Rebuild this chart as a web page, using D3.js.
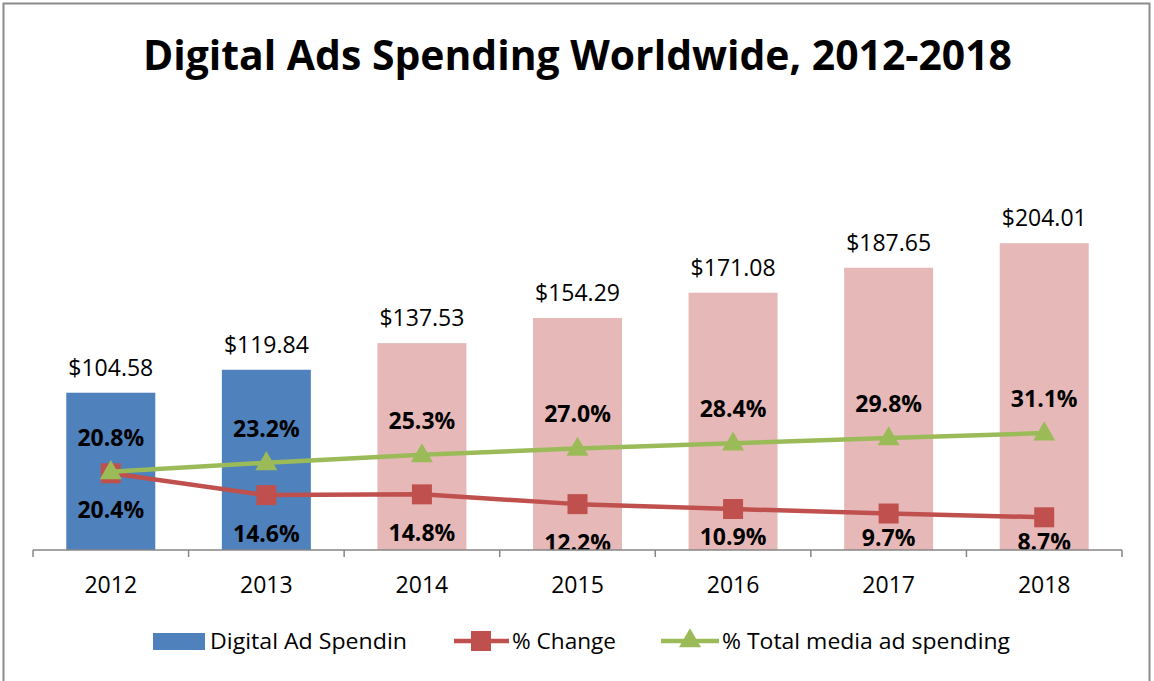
<!DOCTYPE html>
<html>
<head>
<meta charset="utf-8">
<script src="https://cdn.jsdelivr.net/npm/d3@7"></script>
<style>
  html, body { margin: 0; padding: 0; background: #fff; }
  svg { display: block; font-family: "Open Sans", "Noto Sans", sans-serif; }
</style>
</head>
<body>
<svg id="chart" width="1154" height="681"></svg>
<script>
// Spending in billions of US dollars, with yearly growth and share of total media spend
const years = ["2012", "2013", "2014", "2015", "2016", "2017", "2018"];
const spending = [104.58, 119.84, 137.53, 154.29, 171.08, 187.65, 204.01];
const pctChange = [20.4, 14.6, 14.8, 12.2, 10.9, 9.7, 8.7];
const pctTotal = [20.8, 23.2, 25.3, 27.0, 28.4, 29.8, 31.1];
const estimatedYears = ["2014", "2015", "2016", "2017", "2018"];

// vertical offset of each "% Change" label below its marker (layout only)
const changeLabelDy = [45, 47, 47, 47, 36, 32, 33];

const svg = d3.select("#chart");

const colors = {
  actual: "#4F81BD",
  estimate: "#E6B9B8",
  change: "#C0504D",
  total: "#9BBB59",
  axis: "#868686"
};

// outer frame
svg.append("rect")
  .attr("x", 3.5).attr("y", 3.5)
  .attr("width", 1146).attr("height", 690)
  .attr("fill", "none").attr("stroke", "#8c8c8c").attr("stroke-width", 2);

// title
svg.append("text")
  .attr("x", 577.5).attr("y", 70)
  .attr("text-anchor", "middle")
  .attr("font-size", 42).attr("font-weight", 700)
  .attr("textLength", 869).attr("lengthAdjust", "spacingAndGlyphs")
  .text("Digital Ads Spending Worldwide, 2012-2018");

const plot = { left: 33, right: 1122, top: 174, bottom: 550 };

const x = d3.scaleBand().domain(years).range([plot.left, plot.right]).paddingInner(0).paddingOuter(0);
const y = d3.scaleLinear().domain([0, 250]).range([plot.bottom, plot.top]);
const y2 = d3.scaleLinear().domain([0, 100]).range([plot.bottom, plot.top]);

const barW = x.bandwidth() * 0.572;
const cx = d => x(d) + x.bandwidth() / 2;

svg.append("defs").append("clipPath").attr("id", "plotClip")
  .append("rect")
  .attr("x", plot.left).attr("y", 0)
  .attr("width", plot.right - plot.left).attr("height", plot.bottom);

const g = svg.append("g").attr("clip-path", "url(#plotClip)");

// bars
g.selectAll("rect.bar").data(years).join("rect")
  .attr("class", "bar")
  .attr("x", d => cx(d) - barW / 2)
  .attr("width", barW)
  .attr("y", (d, i) => y(spending[i]))
  .attr("height", (d, i) => y(0) - y(spending[i]))
  .attr("fill", d => estimatedYears.includes(d) ? colors.estimate : colors.actual);

// bar value labels
g.selectAll("text.val").data(years).join("text")
  .attr("class", "val")
  .attr("x", d => cx(d))
  .attr("y", (d, i) => y(spending[i]) - 17)
  .attr("text-anchor", "middle")
  .attr("font-size", 23)
  .attr("fill", "#000")
  .text((d, i) => "$" + spending[i].toFixed(2));

// lines
const line = vals => d3.line().x((d, i) => cx(years[i])).y(d => y2(d))(vals);

g.append("path").attr("d", line(pctChange))
  .attr("fill", "none").attr("stroke", colors.change).attr("stroke-width", 4.5)
  .attr("stroke-linejoin", "round");

g.selectAll("rect.sq").data(pctChange).join("rect")
  .attr("class", "sq")
  .attr("x", (d, i) => cx(years[i]) - 10)
  .attr("y", d => y2(d) - 10)
  .attr("width", 20).attr("height", 20)
  .attr("fill", colors.change);

g.append("path").attr("d", line(pctTotal))
  .attr("fill", "none").attr("stroke", colors.total).attr("stroke-width", 4.5)
  .attr("stroke-linejoin", "round");

const tri = d3.symbol().type(d3.symbolTriangle).size(210);
g.selectAll("path.tri").data(pctTotal).join("path")
  .attr("class", "tri")
  .attr("d", tri)
  .attr("transform", (d, i) => `translate(${cx(years[i])},${y2(d) + 1})`)
  .attr("fill", colors.total);

// percentage labels
g.selectAll("text.tot").data(pctTotal).join("text")
  .attr("class", "tot")
  .attr("x", (d, i) => cx(years[i]))
  .attr("y", d => y2(d) - 26)
  .attr("text-anchor", "middle")
  .attr("font-size", 23).attr("font-weight", 700)
  .text(d => d.toFixed(1) + "%");

g.selectAll("text.chg").data(pctChange).join("text")
  .attr("class", "chg")
  .attr("x", (d, i) => cx(years[i]))
  .attr("y", (d, i) => y2(d) + changeLabelDy[i])
  .attr("text-anchor", "middle")
  .attr("font-size", 23).attr("font-weight", 700)
  .text(d => d.toFixed(1) + "%");

// category axis
const xAxis = svg.append("g")
  .attr("transform", `translate(0,${plot.bottom})`);
xAxis.append("line")
  .attr("x1", plot.left).attr("x2", plot.right)
  .attr("stroke", colors.axis).attr("stroke-width", 1.5);
const bounds = years.map(d => x(d)).concat([plot.right]);
xAxis.selectAll("line.tick").data(bounds).join("line")
  .attr("class", "tick")
  .attr("x1", d => d).attr("x2", d => d)
  .attr("y1", 0).attr("y2", 7)
  .attr("stroke", colors.axis).attr("stroke-width", 1.5);
xAxis.selectAll("text").data(years).join("text")
  .attr("x", d => cx(d))
  .attr("y", 43)
  .attr("text-anchor", "middle")
  .attr("font-size", 23)
  .text(d => d);

// legend
const lg = svg.append("g").attr("transform", "translate(0,641)");
lg.append("rect").attr("x", 153).attr("y", -8).attr("width", 52).attr("height", 17)
  .attr("fill", colors.actual);
lg.append("text").attr("x", 210).attr("y", 8).attr("font-size", 21)
  .attr("textLength", 197).attr("lengthAdjust", "spacingAndGlyphs")
  .text("Digital Ad Spendin");

lg.append("line").attr("x1", 454).attr("x2", 509).attr("y1", 0).attr("y2", 0)
  .attr("stroke", colors.change).attr("stroke-width", 4.5);
lg.append("rect").attr("x", 471).attr("y", -10).attr("width", 20).attr("height", 20)
  .attr("fill", colors.change);
lg.append("text").attr("x", 512).attr("y", 8).attr("font-size", 21)
  .attr("textLength", 104).attr("lengthAdjust", "spacingAndGlyphs")
  .text("% Change");

lg.append("line").attr("x1", 661).attr("x2", 719).attr("y1", 0).attr("y2", 0)
  .attr("stroke", colors.total).attr("stroke-width", 4.5);
lg.append("path").attr("d", tri).attr("transform", "translate(690,0)")
  .attr("fill", colors.total);
lg.append("text").attr("x", 722).attr("y", 8).attr("font-size", 21)
  .attr("textLength", 288).attr("lengthAdjust", "spacingAndGlyphs")
  .text("% Total media ad spending");
</script>
</body>
</html>
